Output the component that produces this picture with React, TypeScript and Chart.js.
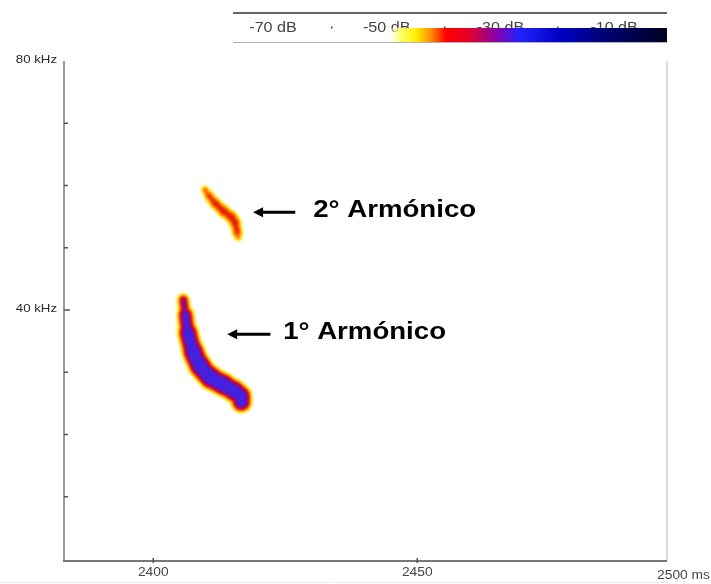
import React, { useEffect, useRef } from 'react';
import { Chart, registerables } from 'chart.js';

Chart.register(...registerables);

// ---- data (time in ms, frequency in kHz) ----
const harmonic1Time = [2405.7, 2406.1, 2406.6, 2407.6, 2408.9, 2410.8, 2413.3, 2415.3, 2416.5, 2416.7];
const harmonic1Freq = [41.6, 39.2, 36.3, 33.3, 31.0, 29.2, 28.0, 27.0, 26.2, 25.2];
const harmonic2Time = [2409.8, 2410.6, 2411.7, 2413.3, 2414.8, 2415.5, 2415.9, 2416.1];
const harmonic2Freq = [59.3, 58.3, 57.2, 55.9, 54.9, 54.0, 52.5, 51.7];

const xTickValues = [2400, 2450, 2500];
const xTickLabels = ['2400', '2450', '2500 ms'];
const yTickValues = [10, 20, 30, 40, 50, 60, 70];
const yLabelValues = [40, 80];
const yLabelTexts = ['40 kHz', '80 kHz'];
const dbLabels = ['-70 dB', '-50 dB', '-30 dB', '-10 dB'];

const annotationTexts = ['2° Armónico', '1° Armónico'];
const arrowTipTime = [2418.9, 2414.0];
const arrowTipFreq = [55.7, 36.1];
const arrowTailTime = [2426.9, 2422.2];
const labelStartTime = [2430.3, 2424.6];

// ---- styles ----
const FONT = "Arial, 'Liberation Sans', sans-serif";
const SX = 1.15;
const h1Layers = [
  { color: '#ffe826', inset: 0 },
  { color: '#ff6200', inset: 4.5 },
  { color: '#d8001e', inset: 7.5 },
  { color: '#7c0ea8', inset: 11 },
  { color: '#4222e0', inset: 14.5 },
];
const h1Thickness = [14, 19, 23, 25, 25.5, 25.5, 24.5, 24, 23];
const h2Layers = [
  { color: '#ffe626', inset: 0 },
  { color: '#ff7200', inset: 4.5 },
  { color: '#e41e00', inset: 8.5 },
];
const h2Thickness = [9, 11, 12.5, 13, 13, 12, 8.5];
const strokeStyles = [
  { layers: h1Layers, thick: h1Thickness },
  { layers: h2Layers, thick: h2Thickness },
];

function sText(ctx: CanvasRenderingContext2D, text: string, x: number, y: number, align: CanvasTextAlign) {
  ctx.save();
  ctx.translate(x, y);
  ctx.scale(SX, 1);
  ctx.textAlign = align;
  ctx.fillText(text, 0, 0);
  ctx.restore();
}

// paints each harmonic as a tapered, layered ridge along the points Chart.js placed
const ridgePlugin = {
  id: 'ridgePlugin',
  afterDatasetsDraw(chart: any) {
    const ctx: CanvasRenderingContext2D = chart.ctx;
    ctx.save();
    ctx.filter = 'blur(1.2px)';
    ctx.lineCap = 'round';
    ctx.lineJoin = 'round';
    strokeStyles.forEach((st, di) => {
      const pts = chart.getDatasetMeta(di).data.map((e: any) => ({ x: e.x, y: e.y }));
      const n = pts.length;
      const P = (i: number) => pts[Math.max(0, Math.min(n - 1, i))];
      st.layers.forEach((l: any) => {
        ctx.strokeStyle = l.color;
        for (let i = 0; i < n - 1; i++) {
          const w = st.thick[i] - l.inset;
          if (w <= 0) continue;
          const p0 = P(i - 1), p1 = P(i), p2 = P(i + 1), p3 = P(i + 2);
          const c1x = p1.x + (p2.x - p0.x) / 6, c1y = p1.y + (p2.y - p0.y) / 6;
          const c2x = p2.x - (p3.x - p1.x) / 6, c2y = p2.y - (p3.y - p1.y) / 6;
          ctx.lineWidth = w;
          ctx.beginPath();
          ctx.moveTo(p1.x, p1.y);
          ctx.bezierCurveTo(c1x, c1y, c2x, c2y, p2.x, p2.y);
          ctx.stroke();
        }
      });
    });
    ctx.restore();
  },
};

const decorPlugin = {
  id: 'decorPlugin',
  afterDraw(chart: any) {
    const ctx: CanvasRenderingContext2D = chart.ctx;
    const xs = chart.scales.x;
    const ys = chart.scales.y;
    const a = chart.chartArea;
    ctx.save();

    // frame
    ctx.strokeStyle = '#d0d0d0';
    ctx.lineWidth = 1.5;
    ctx.beginPath();
    ctx.moveTo(a.right, a.top);
    ctx.lineTo(a.right, a.bottom + 2);
    ctx.stroke();
    ctx.strokeStyle = '#9a9a9a';
    ctx.lineWidth = 2;
    ctx.beginPath();
    ctx.moveTo(a.left, a.top);
    ctx.lineTo(a.left, a.bottom + 2);
    ctx.stroke();
    ctx.strokeStyle = '#777';
    ctx.beginPath();
    ctx.moveTo(a.left - 1, a.bottom + 2);
    ctx.lineTo(a.right, a.bottom + 2);
    ctx.stroke();
    ctx.strokeStyle = '#ececec';
    ctx.lineWidth = 1;
    ctx.beginPath();
    ctx.moveTo(0, 582.5);
    ctx.lineTo(a.right, 582.5);
    ctx.stroke();

    // y ticks
    ctx.strokeStyle = '#555';
    ctx.lineWidth = 1.5;
    yTickValues.forEach((v) => {
      const y = ys.getPixelForValue(v);
      ctx.beginPath();
      ctx.moveTo(a.left, y);
      ctx.lineTo(a.left + (v === 40 ? 6 : 4), y);
      ctx.stroke();
    });
    // x ticks
    xTickValues.forEach((v) => {
      const x = xs.getPixelForValue(v);
      if (x > a.right) return;
      ctx.beginPath();
      ctx.moveTo(x, a.bottom - 1);
      ctx.lineTo(x, a.bottom + 4);
      ctx.stroke();
    });

    // y labels
    ctx.fillStyle = '#2a2a2a';
    ctx.font = `11.5px ${FONT}`;
    ctx.textBaseline = 'middle';
    yLabelValues.forEach((v, i) => {
      sText(ctx, yLabelTexts[i], 57, ys.getPixelForValue(v) - 1, 'right');
    });
    // x labels
    ctx.fillStyle = '#444';
    ctx.font = `12px ${FONT}`;
    xTickValues.forEach((v, i) => {
      const x = xs.getPixelForValue(v);
      if (x > a.right) {
        sText(ctx, xTickLabels[i], chart.width - 1, 576, 'right');
      } else {
        sText(ctx, xTickLabels[i], x, 573, 'center');
      }
    });

    // colour bar
    ctx.strokeStyle = '#666';
    ctx.lineWidth = 2;
    ctx.beginPath();
    ctx.moveTo(233, 13);
    ctx.lineTo(667, 13);
    ctx.stroke();
    ctx.strokeStyle = '#b0b0b0';
    ctx.lineWidth = 1;
    ctx.beginPath();
    ctx.moveTo(233, 42.5);
    ctx.lineTo(667, 42.5);
    ctx.stroke();
    ctx.fillStyle = '#444';
    ctx.font = `14px ${FONT}`;
    ctx.textBaseline = 'alphabetic';
    dbLabels.forEach((t, i) => sText(ctx, t, 273 + i * 113.7, 32, 'center'));
    const gx0 = 386, gx1 = 667;
    const g = ctx.createLinearGradient(gx0, 0, gx1, 0);
    const stop = (px: number, c: string) => g.addColorStop(Math.min(1, Math.max(0, (px - gx0) / (gx1 - gx0))), c);
    stop(386, 'rgba(255,255,255,0)');
    stop(400, '#ffff70');
    stop(416, '#fff000');
    stop(432, '#ff8400');
    stop(446, '#ff0000');
    stop(470, '#e0002a');
    stop(495, '#8c00a4');
    stop(520, '#2222ff');
    stop(560, '#0000c4');
    stop(605, '#000072');
    stop(667, '#000024');
    ctx.fillStyle = g;
    ctx.fillRect(gx0, 28, gx1 - gx0, 14);
    ctx.fillStyle = '#444';
    for (let i = 0; i < 3; i++) {
      ctx.fillRect(331 + i * 113, 26.5, 1.5, 2);
    }

    // annotations
    ctx.fillStyle = '#000';
    ctx.strokeStyle = '#000';
    annotationTexts.forEach((t, i) => {
      const tipX = xs.getPixelForValue(arrowTipTime[i]);
      const tipY = ys.getPixelForValue(arrowTipFreq[i]);
      const tailX = xs.getPixelForValue(arrowTailTime[i]);
      ctx.lineWidth = 3;
      ctx.beginPath();
      ctx.moveTo(tipX + 7, tipY);
      ctx.lineTo(tailX, tipY);
      ctx.stroke();
      ctx.beginPath();
      ctx.moveTo(tipX, tipY);
      ctx.lineTo(tipX + 10, tipY - 5);
      ctx.lineTo(tipX + 10, tipY + 5);
      ctx.closePath();
      ctx.fill();
      ctx.font = `bold 24px ${FONT}`;
      ctx.textBaseline = 'alphabetic';
      sText(ctx, t, xs.getPixelForValue(labelStartTime[i]), tipY + 5, 'left');
    });
    ctx.restore();
  },
};

export default function App() {
  const ref = useRef<HTMLCanvasElement | null>(null);
  useEffect(() => {
    document.body.style.margin = '0';
    const canvas = ref.current!;
    const mk = (times: number[], freqs: number[]) => ({
      data: times.map((t, i) => ({ x: t, y: freqs[i] })),
      showLine: false,
      pointRadius: 0,
      pointHoverRadius: 0,
    });
    const chart = new Chart(canvas, {
      type: 'scatter',
      data: {
        datasets: [mk(harmonic1Time, harmonic1Freq), mk(harmonic2Time, harmonic2Freq)] as any,
      },
      options: {
        animation: false,
        responsive: false,
        maintainAspectRatio: false,
        devicePixelRatio: 1,
        layout: { padding: { left: 64, top: 61, right: 44, bottom: 25 } },
        plugins: { legend: { display: false }, tooltip: { enabled: false } },
        events: [],
        scales: {
          x: { type: 'linear', min: 2383.1, max: 2497.3, display: false },
          y: { type: 'linear', min: 0, max: 80, display: false },
        },
      },
      plugins: [ridgePlugin, decorPlugin],
    });
    return () => chart.destroy();
  }, []);
  return (
    <div style={{ position: 'fixed', left: 0, top: 0, width: 711, height: 584, background: '#fff' }}>
      <canvas ref={ref} width={711} height={584} style={{ width: 711, height: 584, display: 'block' }} />
    </div>
  );
}
